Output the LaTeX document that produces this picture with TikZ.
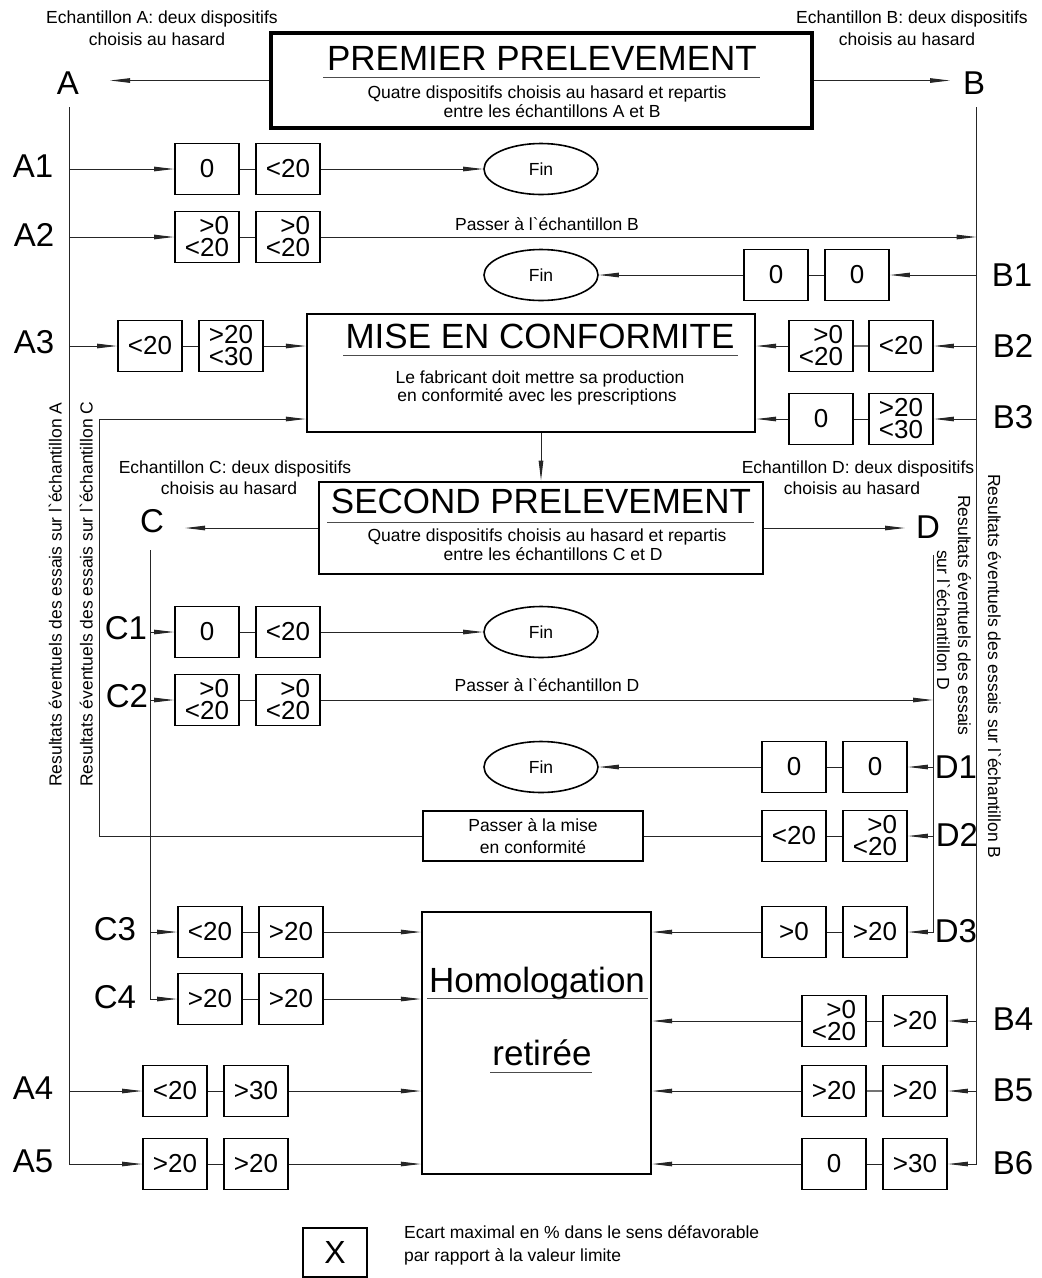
\documentclass[tikz,border=0pt]{standalone}
\usepackage{fontspec}
\setmainfont{Liberation Sans}
\newfontfamily\grvfont{Liberation Sans}
\usetikzlibrary{shapes.geometric,arrows.meta}
\newcommand\mysmall{\fontsize{17.5}{22}\selectfont}
\newcommand\mybig{\fontsize{33}{36}\selectfont}
\newcommand\mynum{\fontsize{26}{22}\selectfont}
\newcommand\mytitle{\fontsize{35}{40}\selectfont}
\newcommand\bq{{\grvfont`}}
\begin{document}
\begin{tikzpicture}[x=1pt,y=-1pt,
  vb/.style={draw, line width=1.8pt, minimum width=64pt, minimum height=51pt, inner sep=0pt, font=\mynum, align=right},
  lbl/.style={font=\mybig, anchor=base, inner sep=0pt},
  txt/.style={font=\mysmall, anchor=base, inner sep=0pt},
  ttl/.style={font=\mytitle, anchor=base, inner sep=0pt},
  fin/.style={draw, ellipse, line width=1.6pt, minimum width=114pt, minimum height=51pt, inner sep=0pt, font=\mysmall},
  ln/.style={line width=1pt, draw=black!85},
  arr/.style={ln, -{Triangle[length=20pt,width=4.5pt]}},
  dbl/.style={line width=2.2pt, draw=black!55},
  uline/.style={line width=1pt, draw=black!70},
  ]
\useasboundingbox (0,0) rectangle (1042,1278);

% ---------- PREMIER PRELEVEMENT ----------
\node[draw, line width=3.3pt, minimum width=541pt, minimum height=95pt, inner sep=0pt] (p1) at (541.5,80.5) {};
\node[ttl] (p1t) at (542,70) {PREMIER PRELEVEMENT};
\draw[uline] (323,77) -- (760,77);
\node[txt] (p1a) at (547,98) {Quatre dispositifs choisis au hasard et repartis};
\node[txt] (p1b) at (552,117.5) {entre les échantillons A et B};

\node[txt] (ea1) at (162,23) {Echantillon A: deux dispositifs};
\node[txt] (ea2) at (157,45) {choisis au hasard};
\node[txt] (eb1) at (912,23) {Echantillon B: deux dispositifs};
\node[txt] (eb2) at (907,45) {choisis au hasard};

\node[lbl] (lA) at (68,94) {A};
\node[lbl] (lB) at (974,94) {B};
\coordinate (aTip) at (110,80.5);
\coordinate (bTip) at (950,80.5);
\draw[arr] (p1.west) -- (aTip);
\draw[arr] (p1.east) -- (bTip);

\coordinate (aTop) at (69,107);
\coordinate (aEnd) at (69,1164);
\coordinate (bTop) at (976.5,107);
\coordinate (bEnd) at (976.5,1164);

% ---------- row labels ----------
\node[lbl] (lA1) at (33,177) {A1};
\node[lbl] (lA2) at (34,246) {A2};
\node[lbl] (lA3) at (34,353) {A3};
\node[lbl] (lA4) at (33,1099) {A4};
\node[lbl] (lA5) at (33,1172) {A5};
\node[lbl] (lB1) at (1012,286) {B1};
\node[lbl] (lB2) at (1013,357) {B2};
\node[lbl] (lB3) at (1013,428) {B3};
\node[lbl] (lB4) at (1013,1030) {B4};
\node[lbl] (lB5) at (1013,1101) {B5};
\node[lbl] (lB6) at (1013,1174) {B6};
\node[lbl] (lC1) at (126,639) {C1};
\node[lbl] (lC2) at (127,707) {C2};
\node[lbl] (lC3) at (115,940) {C3};
\node[lbl] (lC4) at (115,1008) {C4};
\node[lbl] (lD1) at (956,778) {D1};
\node[lbl] (lD2) at (957,846) {D2};
\node[lbl] (lD3) at (956,942) {D3};

% ---------- A1 ----------
\node[vb] (A1a) at (207,169) {0};
\node[vb] (A1b) at (288,169) {<20};
\node[fin] (F1) at (541,169) {Fin};
\draw[arr] (A1a.west -| aTop) -- (A1a.west);
\draw[ln] (A1a) -- (A1b);
\draw[arr] (A1b) -- (F1);

% ---------- A2 ----------
\node[vb] (A2a) at (207,237) {>0\\<20};
\node[vb] (A2b) at (288,237) {>0\\<20};
\draw[arr] (A2a.west -| aTop) -- (A2a.west);
\draw[ln] (A2a) -- (A2b);
\draw[arr] (A2b.east) -- (A2b.east -| bTop);
\node[txt] (pB) at (547,230) {Passer à l\bq échantillon B};

% ---------- B1 ----------
\node[vb] (B1a) at (776,275) {0};
\node[vb] (B1b) at (857,275) {0};
\node[fin] (F2) at (541,275) {Fin};
\draw[arr] (B1b.east -| bTop) -- (B1b.east);
\draw[ln] (B1b) -- (B1a);
\draw[arr] (B1a) -- (F2);

% ---------- MISE EN CONFORMITE ----------
\node[draw, line width=2.2pt, minimum width=448pt, minimum height=118pt, inner sep=0pt] (m) at (531,373) {};
\node[ttl] (mt) at (540,348) {MISE EN CONFORMITE};
\draw[uline] (343,355) -- (738,355);
\node[txt] (m1) at (540,383) {Le fabricant doit mettre sa production};
\node[txt] (m2) at (537,401) {en conformité avec les prescriptions};

% ---------- A3 ----------
\node[vb] (A3a) at (150,346) {<20};
\node[vb] (A3b) at (231,346) {>20\\<30};
\draw[arr] (A3a.west -| aTop) -- (A3a.west);
\draw[ln] (A3a) -- (A3b);
\draw[arr] (A3b.east) -- (A3b.east -| m.west);

% ---------- B2 ----------
\node[vb] (B2a) at (821,346) {>0\\<20};
\node[vb] (B2b) at (901,346) {<20};
\draw[arr] (B2b.east -| bTop) -- (B2b.east);
\draw[dbl] (B2b) -- (B2a);
\draw[arr] (B2a.west) -- (B2a.west -| m.east);

% ---------- B3 ----------
\node[vb] (B3a) at (821,419) {0};
\node[vb] (B3b) at (901,419) {>20\\<30};
\draw[arr] (B3b.east -| bTop) -- (B3b.east);
\draw[ln] (B3b) -- (B3a);
\draw[arr] (B3a.west) -- (B3a.west -| m.east);

% ---------- SECOND PRELEVEMENT ----------
\node[draw, line width=2.8pt, minimum width=444pt, minimum height=92pt, inner sep=0pt] (s) at (541,528) {};
\node[ttl] (st) at (541,513) {SECOND PRELEVEMENT};
\draw[uline] (327,522) -- (754,522);
\node[txt] (s1) at (547,541) {Quatre dispositifs choisis au hasard et repartis};
\node[txt] (s2) at (553,560) {entre les échantillons C et D};
\draw[arr] (m.south -| s.north) -- (s.north);

\node[txt] (ec1) at (235,473) {Echantillon C: deux dispositifs};
\node[txt] (ec2) at (229,494) {choisis au hasard};
\node[txt] (ed1) at (858,473) {Echantillon D: deux dispositifs};
\node[txt] (ed2) at (852,494) {choisis au hasard};

\node[lbl] (lC) at (152,532) {C};
\node[lbl] (lD) at (928,538) {D};
\coordinate (cTip) at (185,528);
\coordinate (dTip) at (905,528);
\draw[arr] (s.west) -- (cTip);
\draw[arr] (s.east) -- (dTip);

\coordinate (cTop) at (150,550);
\coordinate (cEnd) at (150,999);
\coordinate (dTop) at (933,555);
\coordinate (dEnd) at (933,932);

% ---------- C1 ----------
\node[vb] (C1a) at (207,632) {0};
\node[vb] (C1b) at (288,632) {<20};
\node[fin] (F3) at (541,632) {Fin};
\draw[arr] (C1a.west -| cTop) -- (C1a.west);
\draw[ln] (C1a) -- (C1b);
\draw[arr] (C1b) -- (F3);

% ---------- C2 ----------
\node[vb] (C2a) at (207,700) {>0\\<20};
\node[vb] (C2b) at (288,700) {>0\\<20};
\draw[arr] (C2a.west -| cTop) -- (C2a.west);
\draw[ln] (C2a) -- (C2b);
\draw[arr] (C2b.east) -- (C2b.east -| dTop);
\node[txt] (pD) at (547,691) {Passer à l\bq échantillon D};

% ---------- D1 ----------
\node[vb] (D1a) at (794,767) {0};
\node[vb] (D1b) at (875,767) {0};
\node[fin] (F4) at (541,767) {Fin};
\draw[arr] (D1b.east -| dTop) -- (D1b.east);
\draw[ln] (D1b) -- (D1a);
\draw[arr] (D1a) -- (F4);

% ---------- D2 ----------
\node[vb] (D2a) at (794,836) {<20};
\node[vb] (D2b) at (875,836) {>0\\<20};
\node[draw, line width=1.8pt, minimum width=220pt, minimum height=50pt, inner sep=0pt, font=\mysmall, align=center] (pm) at (533,836) {Passer à la mise\\en conformité};
\draw[arr] (D2b.east -| dTop) -- (D2b.east);
\draw[ln] (D2b) -- (D2a);
\draw[ln] (D2a) -- (pm);
\coordinate (loopTop) at (99,419);
\coordinate (loopBot) at (99,836);
\draw[arr] (pm.west) -- (loopBot) -- (loopTop) -- (loopTop -| m.west);

% ---------- Homologation retiree ----------
\node[draw, line width=2.2pt, minimum width=229pt, minimum height=262pt, inner sep=0pt] (h) at (536.5,1043) {};
\node[ttl] (h1) at (537,992) {Homologation};
\draw[uline] (427,998) -- (648,998);
\node[ttl] (h2) at (542,1065) {retirée};
\draw[uline] (490,1072) -- (592,1072);

% ---------- C3 ----------
\node[vb] (C3a) at (210,932) {<20};
\node[vb] (C3b) at (291,932) {>20};
\draw[arr] (C3a.west -| cTop) -- (C3a.west);
\draw[ln] (C3a) -- (C3b);
\draw[arr] (C3b.east) -- (C3b.east -| h.west);

% ---------- C4 ----------
\node[vb] (C4a) at (210,999) {>20};
\node[vb] (C4b) at (291,999) {>20};
\draw[arr] (cTop) -- (cEnd) -- (C4a.west);
\draw[ln] (C4a) -- (C4b);
\draw[arr] (C4b.east) -- (C4b.east -| h.west);

% ---------- D3 ----------
\node[vb] (D3a) at (794,932) {>0};
\node[vb] (D3b) at (875,932) {>20};
\draw[arr] (dTop) -- (dEnd) -- (D3b.east);
\draw[ln] (D3b) -- (D3a);
\draw[arr] (D3a.west) -- (D3a.west -| h.east);

% ---------- A4 ----------
\node[vb] (A4a) at (175,1091) {<20};
\node[vb] (A4b) at (256,1091) {>30};
\draw[arr] (A4a.west -| aTop) -- (A4a.west);
\draw[ln] (A4a) -- (A4b);
\draw[arr] (A4b.east) -- (A4b.east -| h.west);

% ---------- A5 ----------
\node[vb] (A5a) at (175,1164) {>20};
\node[vb] (A5b) at (256,1164) {>20};
\draw[arr] (aTop) -- (aEnd) -- (A5a.west);
\draw[ln] (A5a) -- (A5b);
\draw[arr] (A5b.east) -- (A5b.east -| h.west);

% ---------- B4 ----------
\node[vb] (B4a) at (834,1021) {>0\\<20};
\node[vb] (B4b) at (915,1021) {>20};
\draw[arr] (B4b.east -| bTop) -- (B4b.east);
\draw[ln] (B4b) -- (B4a);
\draw[arr] (B4a.west) -- (B4a.west -| h.east);

% ---------- B5 ----------
\node[vb] (B5a) at (834,1091) {>20};
\node[vb] (B5b) at (915,1091) {>20};
\draw[arr] (B5b.east -| bTop) -- (B5b.east);
\draw[dbl] (B5b) -- (B5a);
\draw[arr] (B5a.west) -- (B5a.west -| h.east);

% ---------- B6 ----------
\node[vb] (B6a) at (834,1164) {0};
\node[vb] (B6b) at (915,1164) {>30};
\draw[arr] (bTop) -- (bEnd) -- (B6b.east);
\draw[ln] (B6b) -- (B6a);
\draw[arr] (B6a.west) -- (B6a.west -| h.east);

% ---------- vertical texts ----------
\node[txt, rotate=90, anchor=base west] (vA) at (61.5,787) {Resultats éventuels des essais sur l\bq échantillon A};
\node[txt, rotate=90, anchor=base west] (vC) at (92.5,787) {Resultats éventuels des essais sur l\bq échantillon C};
\node[txt, rotate=-90, anchor=base west] (vB) at (988,474) {Resultats éventuels des essais sur l\bq échantillon B};
\node[txt, rotate=-90, anchor=base west] (vD1) at (958,495) {Resultats éventuels des essais};
\node[txt, rotate=-90, anchor=base west] (vD2) at (937,550) {sur l\bq échantillon D};

% ---------- legend ----------
\node[draw, line width=1.8pt, minimum width=64pt, minimum height=49pt, inner sep=0pt, font=\fontsize{32}{36}\selectfont] (X) at (335,1252.5) {X};
\node[txt, anchor=base west] (lg1) at (404,1238) {Ecart maximal en \% dans le sens défavorable};
\node[txt, anchor=base west] (lg2) at (404,1261) {par rapport à la valeur limite};
\end{tikzpicture}
\end{document}
